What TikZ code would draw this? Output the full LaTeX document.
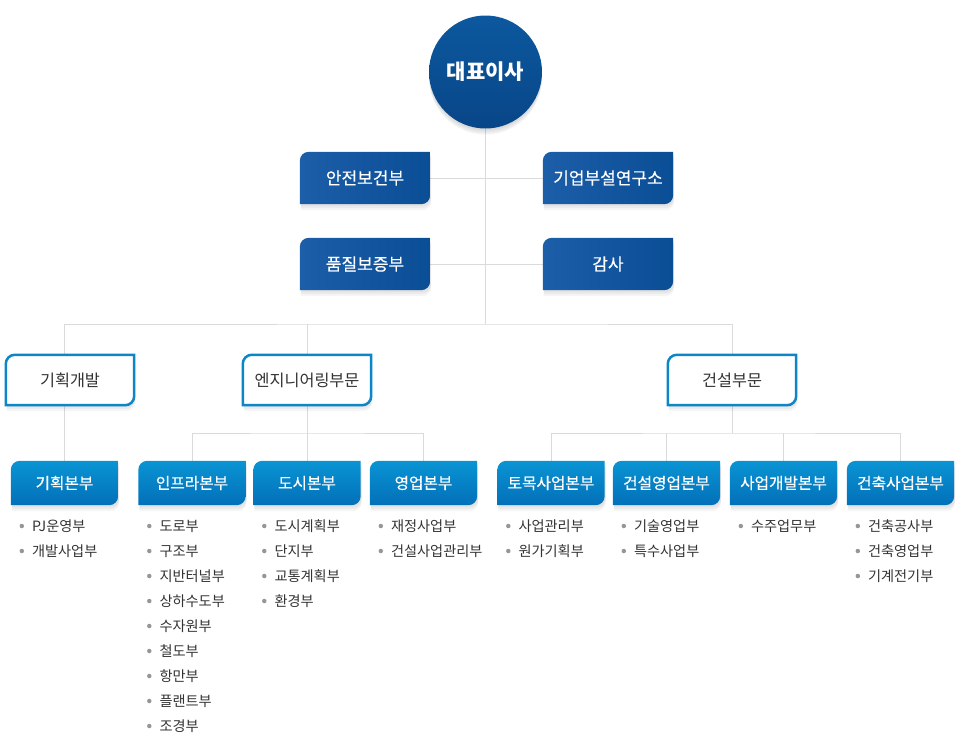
\documentclass[tikz,border=0pt]{standalone}
\usepackage{fontspec}
\setmainfont{Noto Sans CJK KR}
\newfontfamily\medfont[FakeBold=0.4]{Noto Sans CJK KR}
\usetikzlibrary{backgrounds}

\definecolor{staffL}{RGB}{28,94,168}
\definecolor{staffR}{RGB}{10,78,150}
\definecolor{ceoT}{RGB}{12,88,158}
\definecolor{ceoB}{RGB}{8,70,136}
\definecolor{hqT}{RGB}{10,148,212}
\definecolor{hqB}{RGB}{2,112,184}
\definecolor{divline}{RGB}{12,134,198}
\definecolor{linegray}{RGB}{218,218,218}
\definecolor{dotgray}{RGB}{150,150,150}
\definecolor{textgray}{RGB}{51,51,51}

\def\tabr{9pt}
% box with round top left and bottom right corners
\def\tabshape#1#2{\path[#2] (#1.south west) -- ([yshift=-\tabr]#1.north west)
    arc[start angle=180,end angle=90,radius=\tabr] -- (#1.north east)
    -- ([yshift=\tabr]#1.south east) arc[start angle=0,end angle=-90,radius=\tabr] -- cycle;}

\begin{document}
\begin{tikzpicture}[
    x=1pt, y=-1pt,
    link/.style={draw=linegray, line width=1pt},
    ceo node/.style={circle, minimum size=113pt, inner sep=0pt, top color=ceoT, bottom color=ceoB,
        text=white, font=\bfseries\fontsize{21}{24}\selectfont},
    staff/.style={minimum width=130pt, minimum height=52pt, inner sep=0pt, text=white,
        font=\medfont\fontsize{17}{20}\selectfont},
    division/.style={minimum width=128pt, minimum height=50pt, inner sep=0pt, text=textgray,
        font=\fontsize{16.3}{19}\selectfont},
    hq/.style={minimum width=107pt, minimum height=44pt, inner sep=0pt, text=white,
        font=\medfont\fontsize{15.7}{18}\selectfont},
    item/.style={anchor=west, inner sep=0pt, text=textgray, font=\fontsize{14.2}{16}\selectfont},
    dot/.style={circle, fill=dotgray, inner sep=0pt, minimum size=4.5pt}
]
    \useasboundingbox (0,0) rectangle (961,737);

    % Draw the top node
    \node[ceo node] (ceo) at (485.5,72) {대표이사};

    % Draw the staff boxes
    \foreach \name/\x/\y/\txt in {1/365/178/안전보건부, 2/608/178/기업부설연구소,
                                  3/365/264/품질보증부, 4/608/264/감사}
        \node[staff] (S-\name) at (\x,\y) {\txt};

    % Draw the divisions
    \foreach \name/\x/\txt in {1/70/기획개발, 2/307/엔지니어링부문, 3/732/건설부문}
        \node[division] (D-\name) at (\x,380) {\txt};

    % Draw the headquarters
    \foreach \name/\x/\txt in {1/64.5/기획본부, 2/192/인프라본부, 3/307/도시본부, 4/423.5/영업본부,
                               5/551/토목사업본부, 6/666.5/건설영업본부, 7/783.5/사업개발본부, 8/900.5/건축사업본부}
        \node[hq] (H-\name) at (\x,483) {\txt};

    % Draw the departments under every headquarters
    \foreach \h/\list in {1/{PJ운영부,개발사업부},
                          2/{도로부,구조부,지반터널부,상하수도부,수자원부,철도부,항만부,플랜트부,조경부},
                          3/{도시계획부,단지부,교통계획부,환경부},
                          4/{재정사업부,건설사업관리부},
                          5/{사업관리부,원가기획부},
                          6/{기술영업부,특수사업부},
                          7/{수주업무부},
                          8/{건축공사부,건축영업부,기계전기부}}
        \foreach \t [count=\k] in \list {
            \node[dot, xshift=11pt] (B-\h-\k) at (H-\h.west |- {0,501+25*\k}) {};
            \node[item, xshift=21pt] (I-\h-\k) at (H-\h.west |- {0,501+25*\k}) {\t};
        }

    \coordinate (top) at (485.5,324);
    \coordinate (E) at (307,433);
    \coordinate (C) at (732,433);

    \begin{pgfonlayer}{background}
        % Connect the levels
        \draw[link] (ceo) -- (top);
        \draw[link] (S-1) -- (S-2);
        \draw[link] (S-3) -- (S-4);
        \draw[link] (H-1.north) |- (top) -| (D-3.north);
        \draw[link] (D-2.north) -- (D-2.north |- top);
        \draw[link] (D-2.south) -- (H-3.north);
        \draw[link] (H-2.north) |- (E) -| (H-4.north);
        \draw[link] (D-3.south) -- (C);
        \draw[link] (H-5.north) |- (C) -| (H-8.north);
        \foreach \h in {6,7}
            \draw[link] (H-\h.north) -- (H-\h.north |- C);

        % Soft shadows
        \foreach \s in {2,4,6} {
            \fill[black, opacity=.05, transform canvas={yshift=-\s pt}] (ceo) circle[radius=56.5pt];
            \foreach \n in {S-1,S-2,S-3,S-4,D-1,D-2,D-3,H-1,H-2,H-3,H-4,H-5,H-6,H-7,H-8} {
                \tabshape{\n}{fill=black, opacity=.04, transform canvas={xshift=1pt, yshift=-\s pt}}
            }
        }

        % Box shapes
        \foreach \n in {1,...,4} {
            \tabshape{S-\n}{left color=staffL, right color=staffR}
        }
        \foreach \n in {1,...,3} {
            \tabshape{D-\n}{fill=white, draw=divline, line width=2.5pt}
        }
        \foreach \n in {1,...,8} {
            \tabshape{H-\n}{top color=hqT, bottom color=hqB}
        }
    \end{pgfonlayer}
\end{tikzpicture}
\end{document}
